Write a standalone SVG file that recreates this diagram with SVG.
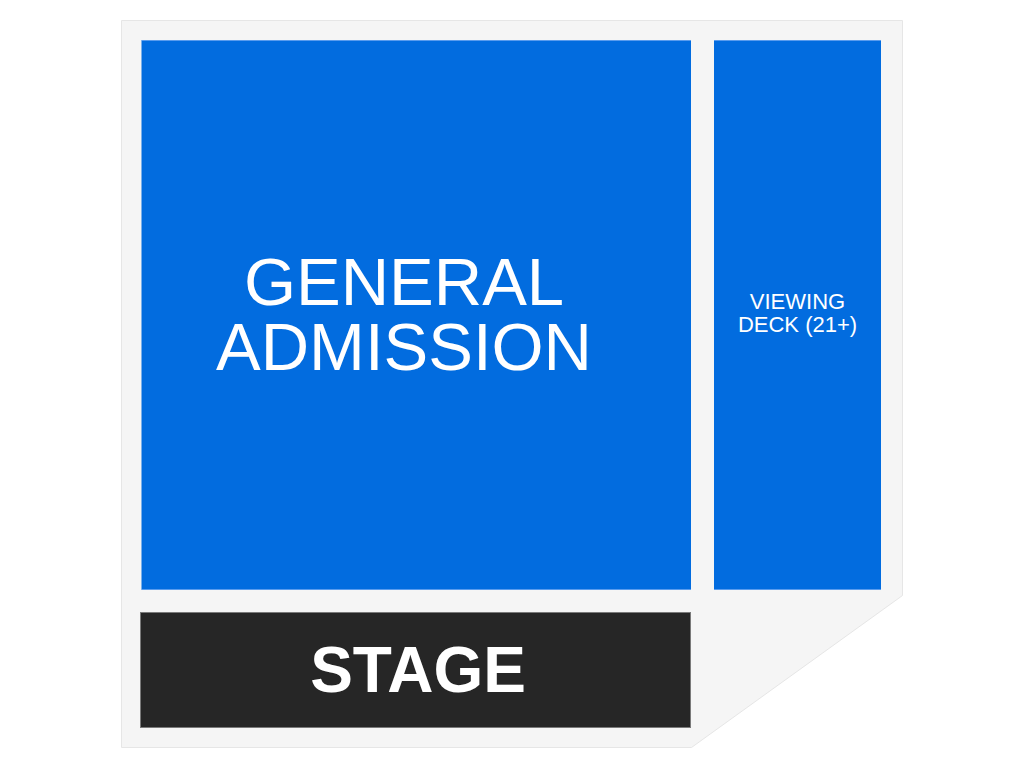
<svg xmlns="http://www.w3.org/2000/svg" width="1024" height="768" viewBox="0 0 1024 768">
  <style>
    .sec { fill: #026cdf; }
    .edge { stroke: #5a9cee; stroke-width: 1; }
    .lbl { fill: #ffffff; font-family: "Liberation Sans", Arial, sans-serif; text-anchor: middle; }
  </style>
  <rect width="1024" height="768" fill="#ffffff"/>
  <g id="venue">
    <polygon points="121.5,20.5 902.5,20.5 902.5,595.5 691.5,747.5 121.5,747.5" fill="#f5f5f5" stroke="#e6e6e6" stroke-width="1"/>
  </g>
  <g id="general-admission">
    <rect class="sec" x="141.5" y="40.5" width="549.5" height="549"/>
    <line class="edge" x1="141.5" y1="40.5" x2="691" y2="40.5"/>
    <line class="edge" x1="141.5" y1="589.5" x2="691" y2="589.5"/>
    <text class="lbl" x="404" y="305" font-size="67">GENERAL</text>
    <text class="lbl" x="404" y="370" font-size="67">ADMISSION</text>
  </g>
  <g id="viewing-deck">
    <rect class="sec" x="714" y="40.5" width="167" height="549"/>
    <line class="edge" x1="714" y1="40.5" x2="881" y2="40.5"/>
    <line class="edge" x1="714" y1="589.5" x2="881" y2="589.5"/>
    <text class="lbl" x="797.5" y="309" font-size="22">VIEWING</text>
    <text class="lbl" x="797.5" y="331.5" font-size="22">DECK (21+)</text>
  </g>
  <g id="stage">
    <rect x="140.5" y="612.5" width="550" height="115" fill="#262626" stroke="#7a7a7a" stroke-width="1"/>
    <text class="lbl" x="418" y="692" font-size="64" font-weight="bold">STAGE</text>
  </g>
  <g id="connectors"></g>
</svg>
